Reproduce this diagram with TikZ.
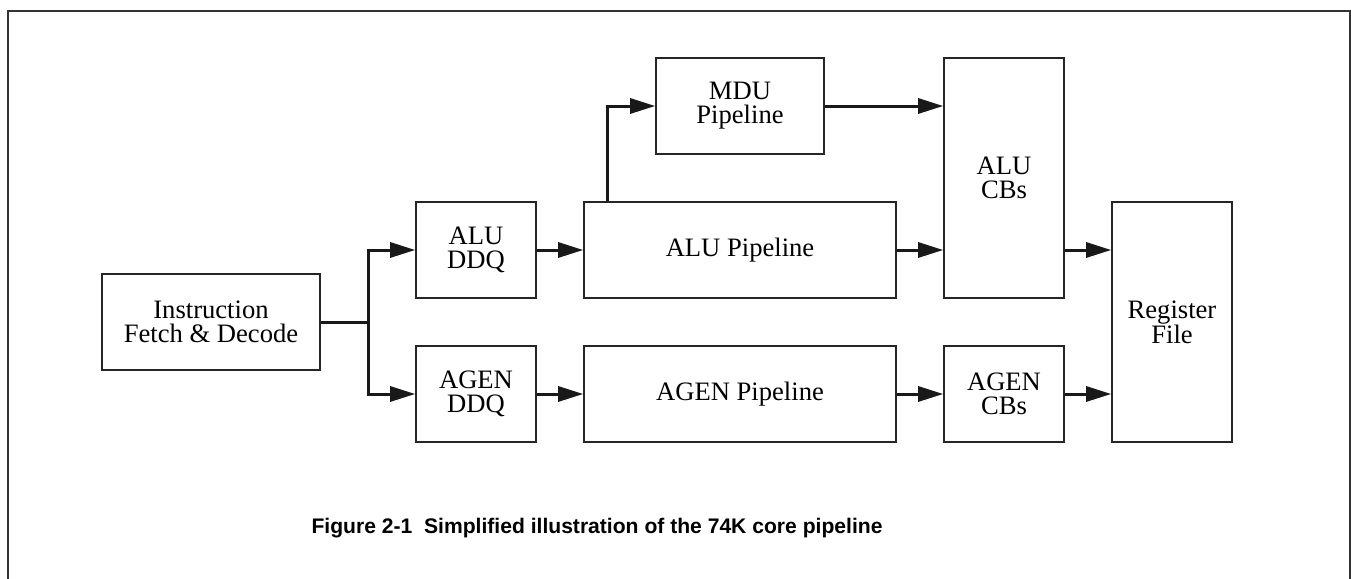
\documentclass[tikz,border=0pt]{standalone}
\usepackage{fontspec}
\setmainfont{Liberation Serif}
\newfontfamily\capfont{Liberation Sans}
\usetikzlibrary{arrows.meta,calc}
\begin{document}
\begin{tikzpicture}[x=1pt,y=-1pt,
  blk/.style={draw=black!85,line width=1.6pt,rectangle,align=center,inner sep=0pt,
    font=\fontsize{26.6}{24}\selectfont},
  conn/.style={line width=3pt,draw=black!90},
  arr/.style={conn,-{Triangle[length=25pt,width=15pt]}}]
\useasboundingbox (0,0) rectangle (1351,578);
\draw[line width=2.2pt,draw=black!80] (8,590) -- (8,11) -- (1350,11) -- (1350,590);
\node[blk,minimum width=218pt,minimum height=96pt] (ifd) at (211,322) {Instruction\\Fetch \& Decode};
\node[blk,minimum width=120pt,minimum height=96pt] (aluddq) at (476,250) {ALU\\DDQ};
\node[blk,minimum width=120pt,minimum height=96pt] (agenddq) at (476,394) {AGEN\\DDQ};
\node[blk,minimum width=312pt,minimum height=96pt] (alupipe) at (740,250) {ALU Pipeline};
\node[blk,minimum width=312pt,minimum height=96pt] (agenpipe) at (740,394) {AGEN Pipeline};
\node[blk,minimum width=168pt,minimum height=96pt] (mdu) at (740,106) {MDU\\Pipeline};
\node[blk,minimum width=120pt,minimum height=240pt] (alucbs) at (1004,178) {ALU\\CBs};
\node[blk,minimum width=120pt,minimum height=96pt] (agencbs) at (1004,394) {AGEN\\CBs};
\node[blk,minimum width=120pt,minimum height=240pt] (regfile) at (1172,322) {Register\\File};
\coordinate (br) at (368,322);
\coordinate (mbr) at ($(alupipe.north west)+(24,0)$);
\draw[conn] (ifd.east) -- (br);
\draw[arr] (br) |- (aluddq.west);
\draw[arr] (br) |- (agenddq.west);
\draw[arr] (aluddq) -- (alupipe);
\draw[arr] (agenddq) -- (agenpipe);
\draw[arr] (mbr) |- (mdu.west);
\draw[arr] (mdu.east) -- (mdu.east -| alucbs.west);
\draw[arr] (alupipe.east) -- (alupipe.east -| alucbs.west);
\draw[arr] (agenpipe) -- (agencbs);
\draw[arr] (alupipe.east -| alucbs.east) -- (alupipe.east -| regfile.west);
\draw[arr] (agencbs.east) -- (agencbs.east -| regfile.west);
\node[font=\capfont\bfseries\fontsize{21.1}{21.1}\selectfont,anchor=base] (cap) at (597,533) {Figure 2-1\ \ Simplified illustration of the 74K core pipeline};
\end{tikzpicture}
\end{document}
